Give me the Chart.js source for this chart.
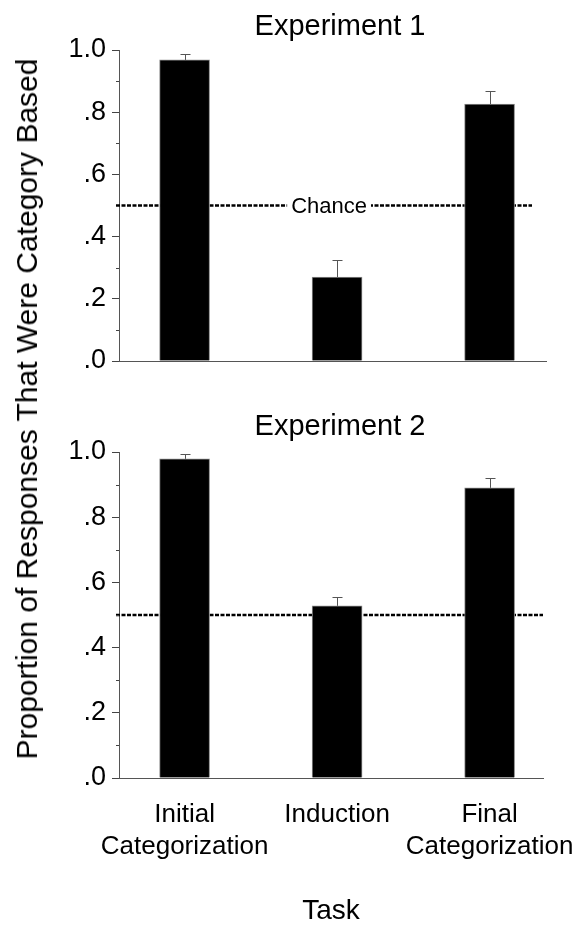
<!DOCTYPE html>
<html>
<head>
<meta charset="utf-8">
<script src="https://cdn.jsdelivr.net/npm/chart.js@4.4.0/dist/chart.umd.min.js"></script>
<style>
  html, body { margin: 0; padding: 0; background: #fff; }
  #page { position: relative; width: 584px; height: 925px; font-family: "Liberation Sans", Arial, sans-serif; color: #000; }
  .box { position: absolute; left: 0; width: 584px; }
  .txt { position: absolute; line-height: 1; white-space: nowrap; }
</style>
</head>
<body>
<div id="page">
  <div class="box" style="top:0;height:400px"><canvas id="exp1" width="584" height="400"></canvas></div>
  <div class="box" style="top:400px;height:525px"><canvas id="exp2" width="584" height="525"></canvas></div>
  <div class="txt" style="font-size:29px;left:340px;top:10.5px;transform:translateX(-50%)">Experiment 1</div>
  <div class="txt" style="font-size:29px;left:340px;top:410.5px;transform:translateX(-50%)">Experiment 2</div>
  <div class="txt" style="font-size:28px;left:331px;top:896px;transform:translateX(-50%)">Task</div>
  <div class="txt" style="font-size:30px;left:26.6px;top:409px;transform:translate(-50%,-50%) rotate(-90deg)">Proportion of Responses That Were Category Based</div>
</div>
<script>
// Datos
const categories = [['Initial', 'Categorization'], ['Induction'], ['Final', 'Categorization']];
const exp1Means = [0.968, 0.27, 0.826];
const exp1Errors = [0.019, 0.055, 0.042];
const exp2Means = [0.979, 0.528, 0.890];
const exp2Errors = [0.015, 0.027, 0.030];
const chanceLevel = 0.5;
const chanceLabel = 'Chance';
const yTickValues = [0, 0.2, 0.4, 0.6, 0.8, 1.0];
const yTickLabels = ['.0', '.2', '.4', '.6', '.8', '1.0'];
const yMinorTicks = [0.1, 0.3, 0.5, 0.7, 0.9];

const FONT = '"Liberation Sans", Arial, sans-serif';

// Linea de azar, barras de error y marcas menores
const decorPlugin = {
  id: 'decor',
  beforeDatasetsDraw(chart, args, opts) {
    const { ctx, chartArea, scales: { x, y } } = chart;
    const yc = y.getPixelForValue(chanceLevel);
    ctx.save();
    ctx.strokeStyle = '#000';
    ctx.lineWidth = 2.5;
    ctx.setLineDash([4, 1.5]);
    ctx.beginPath();
    ctx.moveTo(chartArea.left - 3, yc);
    ctx.lineTo(chartArea.right - opts.rightInset, yc);
    ctx.stroke();
    if (opts.label) {
      ctx.setLineDash([]);
      ctx.font = '22px ' + FONT;
      const w = ctx.measureText(opts.label).width;
      const cx = x.getPixelForValue(1) - 8;
      ctx.fillStyle = '#fff';
      ctx.fillRect(cx - w / 2 - 4, yc - 6, w + 8, 12);
      ctx.fillStyle = '#000';
      ctx.textAlign = 'center';
      ctx.textBaseline = 'middle';
      ctx.fillText(opts.label, cx, yc + 1);
    }
    ctx.restore();
  },
  afterDatasetsDraw(chart, args, opts) {
    const { ctx, chartArea, scales: { x, y } } = chart;
    const means = chart.data.datasets[0].data.map(d => d.y);
    ctx.save();
    ctx.strokeStyle = '#555';
    ctx.lineWidth = 1;
    opts.errors.forEach((e, i) => {
      const px = Math.round(x.getPixelForValue(i)) + 0.5;
      const y0 = y.getPixelForValue(means[i]);
      const y1 = Math.round(y.getPixelForValue(means[i] + e)) + 0.5;
      ctx.beginPath();
      ctx.moveTo(px, y0);
      ctx.lineTo(px, y1);
      ctx.moveTo(px - 5, y1);
      ctx.lineTo(px + 5, y1);
      ctx.stroke();
    });
    ctx.strokeStyle = '#444';
    yMinorTicks.forEach(v => {
      const py = Math.round(y.getPixelForValue(v)) + 0.5;
      ctx.beginPath();
      ctx.moveTo(chartArea.left - 3, py);
      ctx.lineTo(chartArea.left, py);
      ctx.stroke();
    });
    ctx.restore();
  }
};

function crearGrafico(id, means, errors, cfg) {
  return new Chart(document.getElementById(id), {
    type: 'bar',
    data: {
      datasets: [{
        data: means.map((m, i) => ({ x: i, y: m })),
        backgroundColor: '#000',
        borderColor: '#8a8a8a',
        borderWidth: 1,
        barThickness: 50
      }]
    },
    options: {
      responsive: false,
      animation: false,
      layout: { padding: { top: cfg.top, right: cfg.right, left: 0, bottom: 0 } },
      plugins: {
        legend: { display: false },
        tooltip: { enabled: false },
        decor: { errors: errors, label: cfg.label, rightInset: cfg.inset }
      },
      scales: {
        x: {
          type: 'linear',
          offset: false,
          min: -0.43,
          max: cfg.xMax,
          grid: { display: false, drawTicks: false, offset: false },
          border: { display: true, color: '#555' },
          afterBuildTicks: s => { s.ticks = categories.map((c, i) => ({ value: i })); },
          afterFit: s => {
            s.height = cfg.xHeight;
            s.paddingLeft = 0;
            s.paddingRight = 0;
          },
          ticks: {
            display: cfg.showLabels,
            padding: 21,
            color: '#000',
            maxRotation: 0,
            autoSkip: false,
            font: { family: FONT, size: 26, lineHeight: 1.23 },
            callback: v => categories[v]
          }
        },
        y: {
          min: 0,
          max: 1,
          afterBuildTicks: s => { s.ticks = yTickValues.map(v => ({ value: v })); },
          afterFit: s => { s.width = 119; },
          grid: { drawOnChartArea: false, drawTicks: true, tickLength: 7, color: '#444' },
          border: { display: true, color: '#555' },
          ticks: {
            padding: 6,
            color: '#000',
            font: { family: FONT, size: 27 },
            callback: (v, i) => yTickLabels[i]
          }
        }
      }
    },
    plugins: [decorPlugin]
  });
}

crearGrafico('exp1', exp1Means, exp1Errors, { top: 50, right: 38, xMax: 2.37, xHeight: 39, showLabels: false, label: chanceLabel, inset: 14 });
crearGrafico('exp2', exp2Means, exp2Errors, { top: 52, right: 41, xMax: 2.35, xHeight: 147, showLabels: true, label: null, inset: 0 });
</script>
</body>
</html>
